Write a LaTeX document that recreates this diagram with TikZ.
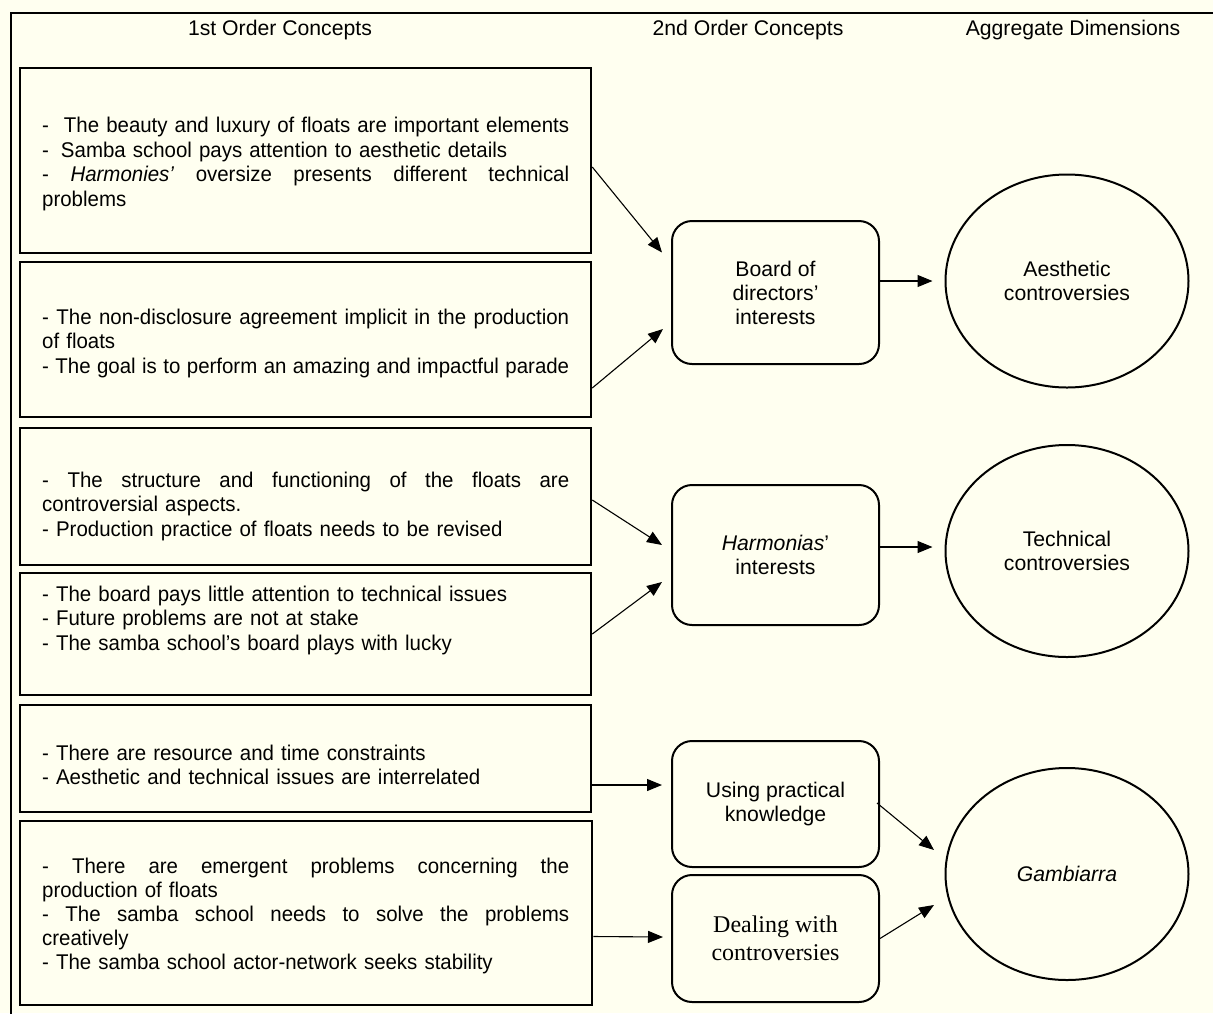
\documentclass[tikz,border=0pt]{standalone}
\usepackage{fontspec}
\setmainfont{Liberation Sans}
\newfontfamily\listfont{Liberation Sans}[FakeStretch=0.96]
\newfontfamily\timesf{Liberation Serif}
\usetikzlibrary{shapes.geometric,arrows.meta,calc}
\definecolor{bgcol}{RGB}{255,255,240}
\newcommand{\jline}[1]{{\spaceskip=0.278em plus 1fil minus 0.1em\relax\makebox[527pt][s]{#1}}}
\tikzset{
  frameline/.style={line width=2.6pt,draw=black},
  conceptbox/.style={draw=black,line width=2.5pt,rectangle,inner sep=0pt},
  listtext/.style={anchor=west,inner sep=0pt,text width=527pt,align=left,
    font=\listfont\fontsize{21.3}{24.5}\selectfont},
  secondbox/.style={draw=black,line width=2pt,rectangle,rounded corners=20pt,
    minimum width=207pt,inner sep=0pt,align=center,
    font=\fontsize{21.2}{24}\selectfont},
  aggell/.style={draw=black,line width=2pt,ellipse,minimum width=243pt,
    minimum height=212pt,inner sep=0pt,align=center,
    font=\fontsize{21.2}{24.5}\selectfont},
  headtext/.style={inner sep=0pt,font=\fontsize{21.2}{24}\selectfont},
  arr/.style={draw=black,line width=1.1pt,-{Triangle[length=15pt,width=12pt]}}
}
\begin{document}
\begin{tikzpicture}[x=1pt,y=-1pt]
\useasboundingbox (0,0) rectangle (1213,1013);
\fill[bgcol] (0,0) rectangle (1213,1013);
% outer frame (top and left sides visible)
\draw[frameline] (11,1020) -- (11,13) -- (1220,13);
% headers
\node[headtext] (h1) at (280,30) {1st Order Concepts};
\node[headtext] (h2) at (748,30) {2nd Order Concepts};
\node[headtext] (h3) at (1073,30) {Aggregate Dimensions};
% first order boxes
\node[conceptbox,minimum width=571pt,minimum height=185pt] (b1) at (305.5,160.5) {};
\node[conceptbox,minimum width=571pt,minimum height=155pt] (b2) at (305.5,339.5) {};
\node[conceptbox,minimum width=571pt,minimum height=137pt] (b3) at (305.5,496.5) {};
\node[conceptbox,minimum width=571pt,minimum height=122pt] (b4) at (305.5,634) {};
\node[conceptbox,minimum width=571pt,minimum height=107pt] (b5) at (305.5,758.5) {};
\node[conceptbox,minimum width=572pt,minimum height=184pt] (b6) at (306,913) {};
% texts of first order boxes
\node[listtext] (t1) at (42,164) {\jline{-\hspace{15pt}The beauty and luxury of floats are important elements}\\
-\hspace{12pt}Samba school pays attention to aesthetic details\\
\jline{- \textit{Harmonies’} oversize presents different technical}\\
problems};
\node[listtext] (t2) at (42,343) {\jline{- The non-disclosure agreement implicit in the production}\\
of floats\\
\jline{- The goal is to perform an amazing and impactful parade}};
\node[listtext] (t3) at (42,506) {\jline{- The structure and functioning of the floats are}\\
controversial aspects.\\
- Production practice of floats needs to be revised};
\node[listtext] (t4) at (42,620) {- The board pays little attention to technical issues\\
- Future problems are not at stake\\
- The samba school’s board plays with lucky};
\node[listtext] (t5) at (42,765) {- There are resource and time constraints\\
- Aesthetic and technical issues are interrelated};
\node[listtext,font=\listfont\fontsize{21.3}{23.8}\selectfont] (t6) at (42,916) {\jline{- There are emergent problems concerning the}\\
production of floats\\
\jline{- The samba school needs to solve the problems}\\
creatively\\
- The samba school actor-network seeks stability};
% second order boxes
\node[secondbox,minimum height=143pt] (r1) at (775.5,292.5) {Board of\\directors’\\interests};
\node[secondbox,minimum height=140pt] (r2) at (775.5,555) {\textit{Harmonias}’\\interests};
\node[secondbox,minimum height=126pt] (r3) at (775.5,804) {Using practical\\knowledge};
\node[secondbox,minimum height=127pt,font=\timesf\fontsize{24}{28}\selectfont] (r4) at (775.5,938.5) {Dealing with\\controversies};
% aggregate dimensions
\node[aggell,minimum height=213pt] (e1) at (1067,281) {Aesthetic\\controversies};
\node[aggell] (e2) at (1067,551) {Technical\\controversies};
\node[aggell] (e3) at (1067,874) {\textit{Gambiarra}};
% connectors
\draw[arr] ([yshift=-6.5pt]b1.east) -- ([xshift=-9pt,yshift=40pt]r1.west);
\draw[arr] ([yshift=-48.5pt]b2.east) -- ([xshift=-8pt,yshift=-36.5pt]r1.west);
\draw[arr] ([yshift=11.5pt]r1.east) -- ([xshift=-12pt]e1.west);
\draw[arr] ([yshift=-3.5pt]b3.east) -- ([xshift=-9pt,yshift=10pt]r2.west);
\draw[arr] (b4.east) -- ([xshift=-9pt,yshift=-27pt]r2.west);
\draw[arr] ([yshift=8pt]r2.east) -- ([xshift=-12pt,yshift=4pt]e2.west);
\draw[arr] ([yshift=-26.5pt]b5.east) -- ([xshift=-9pt,yshift=19pt]r3.west);
\draw[arr] ([xshift=-3pt,yshift=1pt]r3.east) -- ([xshift=-10.5pt,yshift=24pt]e3.west);
\draw[arr] ([yshift=-23.5pt]b6.east) -- ([xshift=-8pt,yshift=1.5pt]r4.west);
\draw[arr] (r4.east) -- ([xshift=-10.5pt,yshift=-31pt]e3.west);
\end{tikzpicture}
\end{document}
